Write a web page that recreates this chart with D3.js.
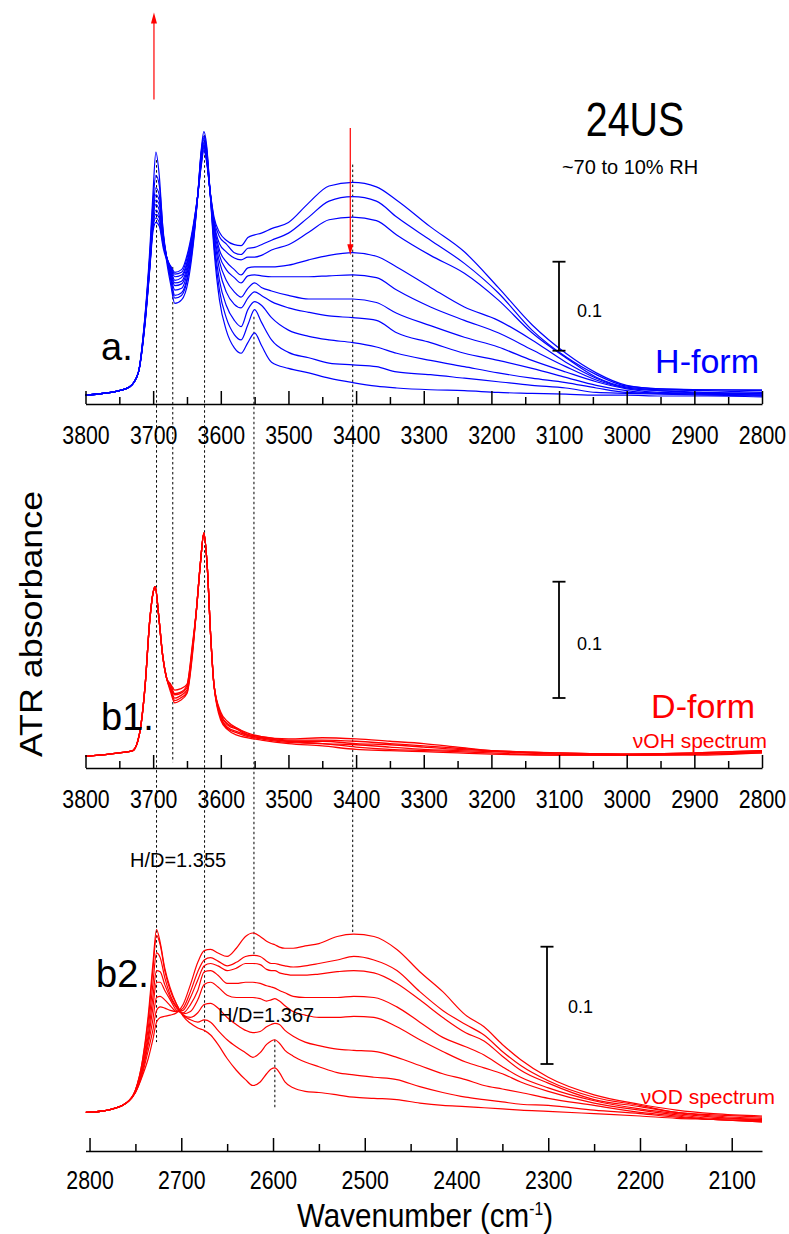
<!DOCTYPE html>
<html>
<head>
<meta charset="utf-8">
<script src="https://cdn.jsdelivr.net/npm/d3@7"></script>
<style>
  body { margin: 0; background: #fff; }
  svg { display: block; font-family: "Liberation Sans", Arial, sans-serif; }
</style>
</head>
<body>
<div class="viz"></div>
<script>
const width = 789, height = 1234;

// ---- panel a. H-form, nuOH region (~70% -> 10% RH), absorbance ----
const wnOH = [3800, 3750, 3735, 3722, 3712, 3705, 3700, 3696, 3691, 3685, 3680, 3674, 3668, 3658, 3648, 3640,
  3634, 3629, 3625, 3621, 3616, 3610, 3602, 3592, 3580, 3570, 3560, 3550, 3540, 3525, 3500, 3470, 3440, 3405,
  3370, 3340, 3290, 3240, 3190, 3140, 3090, 3045, 3000, 2950, 2880, 2800];

const hForm = [
  [0.010, 0.015, 0.019, 0.035, 0.090, 0.151, 0.195, 0.204, 0.200, 0.175, 0.162, 0.155, 0.148, 0.151, 0.173, 0.204, 0.235, 0.267, 0.285, 0.272, 0.240, 0.210, 0.193, 0.184, 0.179, 0.178, 0.187, 0.190, 0.192, 0.197, 0.204, 0.226, 0.245, 0.249, 0.244, 0.229, 0.199, 0.171, 0.131, 0.089, 0.057, 0.035, 0.021, 0.017, 0.016, 0.016],
  [0.010, 0.015, 0.019, 0.035, 0.091, 0.153, 0.200, 0.209, 0.204, 0.178, 0.164, 0.154, 0.146, 0.148, 0.170, 0.202, 0.235, 0.269, 0.288, 0.274, 0.240, 0.207, 0.188, 0.180, 0.170, 0.168, 0.175, 0.176, 0.179, 0.184, 0.192, 0.210, 0.228, 0.233, 0.228, 0.210, 0.184, 0.158, 0.125, 0.083, 0.053, 0.033, 0.020, 0.017, 0.016, 0.015],
  [0.010, 0.015, 0.019, 0.035, 0.092, 0.154, 0.202, 0.213, 0.209, 0.180, 0.165, 0.153, 0.143, 0.145, 0.166, 0.201, 0.235, 0.271, 0.290, 0.275, 0.240, 0.204, 0.180, 0.171, 0.164, 0.162, 0.165, 0.165, 0.167, 0.173, 0.179, 0.193, 0.207, 0.210, 0.206, 0.190, 0.167, 0.147, 0.117, 0.080, 0.052, 0.030, 0.019, 0.016, 0.015, 0.013],
  [0.010, 0.015, 0.019, 0.035, 0.092, 0.155, 0.204, 0.218, 0.212, 0.182, 0.165, 0.151, 0.139, 0.142, 0.163, 0.198, 0.235, 0.272, 0.291, 0.276, 0.240, 0.201, 0.173, 0.160, 0.151, 0.145, 0.153, 0.154, 0.154, 0.154, 0.156, 0.162, 0.167, 0.170, 0.166, 0.154, 0.131, 0.109, 0.094, 0.072, 0.047, 0.029, 0.018, 0.015, 0.013, 0.012],
  [0.010, 0.015, 0.019, 0.035, 0.093, 0.157, 0.209, 0.224, 0.218, 0.184, 0.165, 0.149, 0.136, 0.138, 0.160, 0.196, 0.235, 0.274, 0.293, 0.279, 0.240, 0.198, 0.167, 0.151, 0.142, 0.136, 0.144, 0.145, 0.144, 0.143, 0.143, 0.143, 0.144, 0.145, 0.142, 0.128, 0.109, 0.094, 0.080, 0.061, 0.042, 0.027, 0.018, 0.015, 0.012, 0.012],
  [0.010, 0.015, 0.019, 0.035, 0.094, 0.160, 0.213, 0.229, 0.224, 0.187, 0.165, 0.147, 0.133, 0.135, 0.156, 0.193, 0.235, 0.276, 0.294, 0.281, 0.240, 0.193, 0.160, 0.139, 0.126, 0.120, 0.130, 0.136, 0.131, 0.127, 0.122, 0.118, 0.118, 0.118, 0.114, 0.102, 0.088, 0.075, 0.064, 0.049, 0.036, 0.025, 0.017, 0.013, 0.012, 0.011],
  [0.010, 0.015, 0.019, 0.035, 0.096, 0.162, 0.216, 0.235, 0.229, 0.187, 0.164, 0.144, 0.128, 0.130, 0.153, 0.191, 0.235, 0.279, 0.297, 0.283, 0.240, 0.190, 0.151, 0.126, 0.112, 0.108, 0.119, 0.126, 0.122, 0.115, 0.108, 0.103, 0.099, 0.097, 0.094, 0.080, 0.069, 0.057, 0.049, 0.040, 0.030, 0.021, 0.015, 0.012, 0.011, 0.010],
  [0.010, 0.015, 0.019, 0.035, 0.097, 0.164, 0.220, 0.243, 0.235, 0.190, 0.164, 0.142, 0.122, 0.125, 0.148, 0.189, 0.235, 0.281, 0.299, 0.285, 0.240, 0.184, 0.139, 0.111, 0.094, 0.087, 0.106, 0.115, 0.111, 0.097, 0.083, 0.076, 0.072, 0.069, 0.064, 0.057, 0.049, 0.042, 0.035, 0.029, 0.024, 0.018, 0.013, 0.012, 0.011, 0.010],
  [0.010, 0.015, 0.019, 0.035, 0.098, 0.167, 0.229, 0.257, 0.246, 0.193, 0.164, 0.139, 0.119, 0.122, 0.145, 0.187, 0.235, 0.283, 0.301, 0.288, 0.240, 0.179, 0.128, 0.097, 0.078, 0.072, 0.089, 0.106, 0.092, 0.072, 0.058, 0.052, 0.046, 0.044, 0.042, 0.036, 0.033, 0.029, 0.025, 0.021, 0.018, 0.013, 0.012, 0.011, 0.010, 0.009],
  [0.010, 0.015, 0.019, 0.035, 0.100, 0.173, 0.240, 0.283, 0.257, 0.190, 0.160, 0.134, 0.113, 0.117, 0.139, 0.184, 0.235, 0.285, 0.306, 0.291, 0.240, 0.173, 0.117, 0.083, 0.063, 0.057, 0.069, 0.080, 0.066, 0.047, 0.040, 0.035, 0.029, 0.024, 0.020, 0.018, 0.016, 0.015, 0.013, 0.012, 0.011, 0.010, 0.010, 0.009, 0.009, 0.008]
];

// ---- panel b1. D-form, nuOH region ----
const wnOHd = [3800, 3750, 3730, 3720, 3712, 3705, 3700, 3697, 3692, 3686, 3680, 3674, 3668, 3660, 3650, 3642,
  3636, 3630, 3625, 3620, 3615, 3610, 3600, 3590, 3575, 3560, 3540, 3500, 3450, 3400, 3350, 3300, 3250, 3200,
  3100, 3000, 2900, 2800];

const dFormOH = [
  [0.010, 0.013, 0.015, 0.030, 0.070, 0.127, 0.151, 0.156, 0.132, 0.097, 0.077, 0.072, 0.067, 0.068, 0.072, 0.106, 0.136, 0.177, 0.202, 0.173, 0.114, 0.071, 0.048, 0.040, 0.034, 0.030, 0.027, 0.025, 0.026, 0.025, 0.023, 0.021, 0.018, 0.015, 0.013, 0.012, 0.013, 0.015],
  [0.010, 0.013, 0.015, 0.030, 0.070, 0.127, 0.151, 0.156, 0.132, 0.097, 0.077, 0.071, 0.064, 0.065, 0.071, 0.104, 0.136, 0.177, 0.202, 0.173, 0.114, 0.071, 0.046, 0.038, 0.034, 0.029, 0.027, 0.024, 0.024, 0.023, 0.021, 0.019, 0.017, 0.015, 0.013, 0.012, 0.013, 0.015],
  [0.010, 0.013, 0.015, 0.030, 0.070, 0.127, 0.151, 0.156, 0.132, 0.097, 0.077, 0.069, 0.063, 0.064, 0.069, 0.102, 0.136, 0.177, 0.202, 0.173, 0.114, 0.071, 0.046, 0.037, 0.033, 0.028, 0.026, 0.023, 0.023, 0.021, 0.020, 0.018, 0.016, 0.015, 0.012, 0.012, 0.012, 0.014],
  [0.010, 0.013, 0.015, 0.030, 0.070, 0.127, 0.151, 0.156, 0.132, 0.097, 0.077, 0.068, 0.060, 0.062, 0.067, 0.101, 0.136, 0.177, 0.202, 0.173, 0.114, 0.071, 0.044, 0.035, 0.031, 0.028, 0.026, 0.023, 0.021, 0.020, 0.018, 0.016, 0.015, 0.014, 0.012, 0.011, 0.012, 0.014],
  [0.010, 0.013, 0.015, 0.030, 0.070, 0.127, 0.151, 0.156, 0.132, 0.097, 0.077, 0.067, 0.058, 0.060, 0.065, 0.099, 0.136, 0.177, 0.202, 0.173, 0.114, 0.071, 0.043, 0.034, 0.030, 0.027, 0.025, 0.022, 0.021, 0.018, 0.016, 0.015, 0.014, 0.013, 0.011, 0.011, 0.012, 0.013],
  [0.010, 0.013, 0.015, 0.030, 0.070, 0.127, 0.151, 0.156, 0.132, 0.097, 0.077, 0.065, 0.056, 0.058, 0.064, 0.097, 0.136, 0.177, 0.202, 0.173, 0.114, 0.071, 0.041, 0.033, 0.028, 0.026, 0.024, 0.021, 0.019, 0.016, 0.015, 0.014, 0.013, 0.012, 0.011, 0.011, 0.011, 0.013]
];

// ---- panel b2. D-form, nuOD region ----
const wnOD = [2804, 2780, 2760, 2750, 2742, 2736, 2731, 2727, 2723, 2718, 2712, 2705, 2698, 2690, 2682, 2675,
  2668, 2660, 2650, 2640, 2630, 2622, 2614, 2607, 2602, 2598, 2593, 2587, 2578, 2565, 2550, 2530, 2512, 2490,
  2465, 2440, 2415, 2390, 2370, 2350, 2330, 2300, 2250, 2200, 2160, 2120, 2067];

const dFormOD = [
  [0.032, 0.034, 0.040, 0.049, 0.064, 0.078, 0.094, 0.109, 0.113, 0.114, 0.115, 0.117, 0.124, 0.141, 0.160, 0.170, 0.171, 0.168, 0.165, 0.172, 0.182, 0.185, 0.182, 0.178, 0.176, 0.175, 0.173, 0.172, 0.172, 0.174, 0.176, 0.182, 0.184, 0.182, 0.171, 0.152, 0.135, 0.115, 0.105, 0.090, 0.077, 0.062, 0.047, 0.039, 0.034, 0.031, 0.029],
  [0.032, 0.034, 0.040, 0.049, 0.066, 0.085, 0.102, 0.119, 0.122, 0.121, 0.119, 0.118, 0.121, 0.135, 0.152, 0.162, 0.164, 0.161, 0.157, 0.160, 0.165, 0.166, 0.165, 0.161, 0.159, 0.159, 0.158, 0.157, 0.156, 0.157, 0.159, 0.162, 0.165, 0.162, 0.153, 0.135, 0.119, 0.107, 0.098, 0.084, 0.072, 0.059, 0.045, 0.038, 0.032, 0.030, 0.028],
  [0.032, 0.034, 0.040, 0.049, 0.068, 0.090, 0.111, 0.130, 0.131, 0.128, 0.123, 0.118, 0.119, 0.130, 0.145, 0.157, 0.159, 0.157, 0.153, 0.155, 0.159, 0.159, 0.158, 0.154, 0.153, 0.153, 0.151, 0.150, 0.149, 0.149, 0.150, 0.152, 0.153, 0.151, 0.142, 0.128, 0.113, 0.100, 0.093, 0.080, 0.068, 0.057, 0.043, 0.037, 0.032, 0.029, 0.027],
  [0.032, 0.034, 0.040, 0.050, 0.070, 0.094, 0.121, 0.143, 0.143, 0.136, 0.128, 0.119, 0.117, 0.124, 0.136, 0.152, 0.153, 0.149, 0.142, 0.142, 0.143, 0.143, 0.142, 0.140, 0.139, 0.138, 0.136, 0.134, 0.131, 0.130, 0.130, 0.130, 0.131, 0.130, 0.122, 0.109, 0.096, 0.088, 0.081, 0.071, 0.062, 0.053, 0.042, 0.035, 0.031, 0.028, 0.026],
  [0.032, 0.034, 0.040, 0.050, 0.072, 0.098, 0.130, 0.153, 0.152, 0.141, 0.130, 0.121, 0.116, 0.118, 0.128, 0.141, 0.143, 0.139, 0.132, 0.130, 0.130, 0.130, 0.129, 0.127, 0.128, 0.129, 0.127, 0.123, 0.118, 0.115, 0.113, 0.113, 0.114, 0.113, 0.105, 0.094, 0.084, 0.075, 0.070, 0.065, 0.058, 0.050, 0.040, 0.034, 0.030, 0.027, 0.026],
  [0.032, 0.034, 0.040, 0.051, 0.074, 0.104, 0.141, 0.168, 0.164, 0.147, 0.132, 0.122, 0.115, 0.113, 0.117, 0.124, 0.125, 0.121, 0.113, 0.107, 0.102, 0.100, 0.101, 0.105, 0.107, 0.108, 0.107, 0.102, 0.097, 0.092, 0.089, 0.086, 0.085, 0.084, 0.079, 0.072, 0.065, 0.060, 0.055, 0.052, 0.049, 0.044, 0.038, 0.032, 0.029, 0.026, 0.025],
  [0.032, 0.034, 0.040, 0.051, 0.077, 0.111, 0.153, 0.183, 0.175, 0.153, 0.136, 0.124, 0.115, 0.111, 0.109, 0.111, 0.109, 0.102, 0.094, 0.088, 0.083, 0.079, 0.083, 0.090, 0.093, 0.094, 0.091, 0.085, 0.080, 0.075, 0.071, 0.066, 0.064, 0.062, 0.060, 0.054, 0.049, 0.045, 0.043, 0.041, 0.039, 0.038, 0.034, 0.031, 0.028, 0.026, 0.024],
  [0.032, 0.034, 0.040, 0.051, 0.078, 0.115, 0.158, 0.188, 0.177, 0.155, 0.138, 0.124, 0.114, 0.108, 0.104, 0.102, 0.098, 0.090, 0.078, 0.068, 0.060, 0.055, 0.058, 0.065, 0.069, 0.070, 0.066, 0.058, 0.053, 0.050, 0.049, 0.047, 0.045, 0.044, 0.043, 0.040, 0.038, 0.037, 0.036, 0.035, 0.034, 0.033, 0.031, 0.029, 0.027, 0.026, 0.024]
];

// axis ticks
const ticksOH = [3800, 3700, 3600, 3500, 3400, 3300, 3200, 3100, 3000, 2900, 2800];
const minorOH = [3750, 3650, 3550, 3450, 3350, 3250, 3150, 3050, 2950, 2850];
const ticksOD = [2800, 2700, 2600, 2500, 2400, 2300, 2200, 2100];
const minorOD = [2750, 2650, 2550, 2450, 2350, 2250, 2150];

// dotted guides: wavenumber (OH scale), start panel/absorbance, end panel/absorbance
const guides = [
  { wn: 3695, from: ["a", 0.274], to: ["b2", 0.092] },
  { wn: 3671, from: ["a", 0.154], to: ["b1", 0.005] },
  { wn: 3624, from: ["a", 0.302], to: ["b2", 0.101] },
  { wn: 3551, from: ["a", 0.098], to: ["b2", 0.166] },
  { wn: 3405, from: ["a", 0.269], to: ["b2", 0.185] }
];
const guideOD = { wn: 2598, from: 0.094, to: 0.036 };

// ---- scales ----
const xOH = d3.scaleLinear().domain([3800, 2800]).range([85.5, 762]);
const xOD = d3.scaleLinear().domain([2804.4, 2067]).range([85.5, 762]);
const yScales = {
  a: d3.scaleLinear().domain([0, 0.1]).range([404, 315]),
  b1: d3.scaleLinear().domain([0, 0.1]).range([768, 651.7]),
  b2: d3.scaleLinear().domain([0, 0.1]).range([1150, 1032.7])
};

const svg = d3.select(".viz").append("svg")
  .attr("width", width)
  .attr("height", height);

svg.append("rect").attr("width", width).attr("height", height).attr("fill", "#fff");

function drawSpectra(series, wn, x, y, color, sw) {
  const line = d3.line()
    .x((d, i) => x(wn[i]))
    .y(d => y(d))
    .curve(d3.curveMonotoneX);
  svg.append("g")
    .selectAll("path")
    .data(series)
    .enter()
    .append("path")
    .attr("d", line)
    .attr("fill", "none")
    .attr("stroke", color)
    .attr("stroke-width", sw);
}

function drawAxis(x, y0, majors, minors, labelY) {
  const g = svg.append("g")
    .attr("transform", `translate(0,${y0})`)
    .call(d3.axisBottom(x).tickValues(minors).tickSize(-7).tickFormat(""));
  g.select(".domain").remove();
  const g2 = svg.append("g")
    .attr("transform", `translate(0,${y0})`)
    .call(d3.axisBottom(x).tickValues(majors).tickSize(-13).tickSizeOuter(0).tickFormat(d3.format("d")));
  [g, g2].forEach(s => s.selectAll("line, path").attr("stroke", "#000").attr("stroke-width", 1.5));
  g2.attr("font-family", null).attr("font-size", 26);
  g2.selectAll(".tick text")
    .attr("y", labelY)
    .attr("dy", null)
    .attr("fill", "#000")
    .attr("transform", "scale(0.82,1)");
}

function addText(x, y, str, size, opts = {}) {
  return svg.append("text")
    .attr("transform", `translate(${x},${y})` + (opts.rotate ? ` rotate(${opts.rotate})` : "") + ` scale(${opts.sx || 1},1)`)
    .attr("font-size", size)
    .attr("text-anchor", opts.anchor || "start")
    .attr("fill", opts.fill || "#000")
    .text(str);
}

function scaleBar(x, yTop, y) {
  const len = y(0) - y(0.1);
  const g = svg.append("g").attr("stroke", "#000").attr("stroke-width", 1.8);
  g.append("line").attr("x1", x).attr("x2", x).attr("y1", yTop).attr("y2", yTop + len);
  g.append("line").attr("x1", x - 6.5).attr("x2", x + 6.5).attr("y1", yTop).attr("y2", yTop);
  g.append("line").attr("x1", x - 6.5).attr("x2", x + 6.5).attr("y1", yTop + len).attr("y2", yTop + len);
}

function arrow(x, y1, y2) {
  const dir = y2 < y1 ? -1 : 1;
  svg.append("line")
    .attr("x1", x).attr("x2", x)
    .attr("y1", y1).attr("y2", y2 - dir * 8)
    .attr("stroke", "#ff0000").attr("stroke-width", 1.2);
  svg.append("path")
    .attr("d", `M${x},${y2} L${x - 3},${y2 - dir * 11} L${x + 3},${y2 - dir * 11} Z`)
    .attr("fill", "#ff0000");
}

// dotted guide lines (behind spectra)
const dots = svg.append("g")
  .attr("stroke", "#000")
  .attr("stroke-width", 1)
  .attr("stroke-dasharray", "2.5,2.5");
guides.forEach(gd => {
  const x = xOH(gd.wn);
  dots.append("line")
    .attr("x1", x).attr("x2", x)
    .attr("y1", yScales[gd.from[0]](gd.from[1]))
    .attr("y2", yScales[gd.to[0]](gd.to[1]));
});
dots.append("line")
  .attr("x1", xOD(guideOD.wn)).attr("x2", xOD(guideOD.wn))
  .attr("y1", yScales.b2(guideOD.from))
  .attr("y2", yScales.b2(guideOD.to));

// spectra
drawSpectra(hForm, wnOH, xOH, yScales.a, "#0000ff", 1.2);
drawSpectra(dFormOH, wnOHd, xOH, yScales.b1, "#ff0000", 1.3);
drawSpectra(dFormOD, wnOD, xOD, yScales.b2, "#ff0000", 1.2);

// axes
drawAxis(xOH, 404, ticksOH, minorOH, 40);
drawAxis(xOH, 768, ticksOH, minorOH, 40);
drawAxis(xOD, 1151, ticksOD, minorOD, 38);

// scale bars (0.1 absorbance)
scaleBar(559, 261.7, yScales.a);
scaleBar(559, 581.7, yScales.b1);
scaleBar(547, 946.7, yScales.b2);
addText(577, 317, "0.1", 18);
addText(577, 650, "0.1", 18);
addText(568, 1013, "0.1", 18);

// red arrows: free OH band grows, H-bonded band shrinks on drying
arrow(xOH(3698.8), yScales.a(0.342), yScales.a(0.440));
arrow(xOH(3408.6), yScales.a(0.310), yScales.a(0.167));

// labels
addText(635, 136, "24US", 48, { anchor: "middle", sx: 0.82 });
addText(630, 174, "~70 to 10% RH", 20, { anchor: "middle" });
addText(101, 360, "a.", 38);
addText(101, 730, "b1.", 38);
addText(96, 987, "b2.", 38);
addText(759, 373, "H-form", 34, { anchor: "end", fill: "#0000ff" });
addText(755, 718, "D-form", 34, { anchor: "end", fill: "#ff0000" });
addText(767, 748, "\u03bdOH spectrum", 21, { anchor: "end", fill: "#ff0000" });
addText(775, 1104, "\u03bdOD spectrum", 21, { anchor: "end", fill: "#ff0000" });
addText(130, 867, "H/D=1.355", 20);
addText(218, 1022, "H/D=1.367", 20);
addText(42, 624, "ATR absorbance", 32, { anchor: "middle", rotate: -90, sx: 1.12 });

const title = svg.append("text")
  .attr("transform", "translate(425,1227) scale(0.87,1)")
  .attr("font-size", 34)
  .attr("text-anchor", "middle")
  .attr("fill", "#000");
title.append("tspan").text("Wavenumber (cm");
title.append("tspan").attr("font-size", 18).attr("dy", -12).text("-1");
title.append("tspan").attr("dy", 12).text(")");
</script>
</body>
</html>
